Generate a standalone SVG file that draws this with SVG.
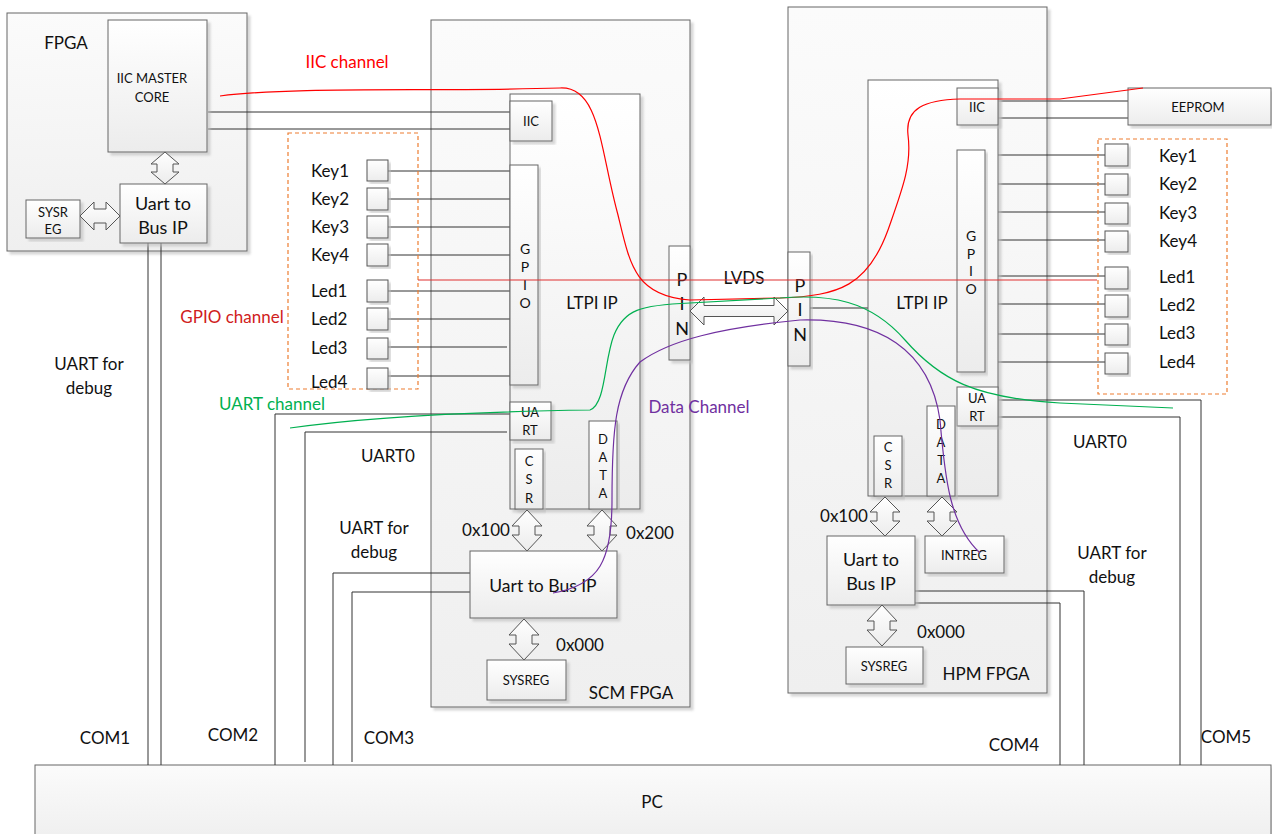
<svg xmlns="http://www.w3.org/2000/svg" width="1272" height="834" viewBox="0 0 1272 834">
<defs>
<linearGradient id="g" x1="0" y1="0" x2="0" y2="1"><stop offset="0" stop-color="#ffffff"/><stop offset="1" stop-color="#ececec"/></linearGradient>
<linearGradient id="gb" x1="0" y1="0" x2="0" y2="1"><stop offset="0" stop-color="#fbfbfb"/><stop offset="1" stop-color="#efefef"/></linearGradient>
<filter id="sh" x="-5%" y="-5%" width="115%" height="115%"><feDropShadow dx="3" dy="3" stdDeviation="1" flood-color="#bbb" flood-opacity="0.6"/></filter>
<style>
.box{fill:url(#g);stroke:#666;stroke-width:1;filter:url(#sh)}
.big{fill:url(#gb);stroke:#666;stroke-width:1;filter:url(#sh)}
.sq{fill:url(#g);stroke:#555;stroke-width:1;filter:url(#sh)}
.ln{fill:none;stroke:#333;stroke-width:1}
.arr{fill:url(#g);stroke:#555;stroke-width:1}
.dash{fill:none;stroke:#ED7D31;stroke-width:1.2;stroke-dasharray:4 3}
.t{font-family:Lato,"Liberation Sans",sans-serif;fill:#111;dominant-baseline:central;text-anchor:middle}
.s12{font-size:13px}.s13{font-size:14px}.s16{font-size:17px}.s17{font-size:17.5px}.s18{font-size:18px}
.lft{text-anchor:start}
</style>
</defs>
<rect width="1272" height="834" fill="#ffffff"/>

<g id="pc"><rect class="big" x="35" y="765" width="1236" height="75"/><text class="t s16" x="652" y="801">PC</text></g>

<g id="fpga"><rect class="big" x="7" y="13" width="240" height="238"/><text class="t s16" x="66" y="42">FPGA</text></g>
<g id="scm"><rect class="big" x="431" y="20" width="259" height="687"/><text class="t s16" x="631" y="692">SCM FPGA</text></g>
<g id="hpm"><rect class="big" x="788" y="7" width="259" height="686"/><text class="t s16" x="986" y="673">HPM FPGA</text></g>

<g id="connectors">
<path class="ln" d="M148,243V765M161,243V765"/>
<path class="ln" d="M208,112H510M208,129H510"/>
<path class="ln" d="M998,101H1128M998,118H1128"/>
<path class="ln" d="M388,171H510M388,199H510M388,227H510M388,255H510M388,291H510M388,319H510M388,347H507M388,376H510"/>
<path class="ln" d="M985,155H1110M985,184H1110M985,212H1110M985,240H1110M985,276H1110M985,304H1110M985,334H1110M985,362H1110"/>
<path class="ln" d="M810,308H868"/>
<path class="ln" d="M510,414H275V765M507,432H305V762"/>
<path class="ln" d="M470,573H333V765M470,592H352V762"/>
<path class="ln" d="M915,591H1084V765M915,603H1060V765"/>
<path class="ln" d="M998,400H1201V765M998,417H1180V765"/>
</g>

<g id="iicmaster"><rect class="box" x="108" y="20" width="99" height="132"/><text class="t s12" x="152" y="78">IIC MASTER</text><text class="t s12" x="152" y="97">CORE</text></g>
<g id="fpga-u2b"><rect class="box" x="120" y="184" width="87" height="59"/><text class="t s18" x="163" y="203">Uart to</text><text class="t s18" x="163" y="227">Bus IP</text></g>
<g id="fpga-sysreg"><rect class="box" x="26" y="200" width="54" height="38"/><text class="t s12" x="53" y="212">SYSR</text><text class="t s12" x="53" y="229">EG</text></g>
<path class="arr" d="M165,152L179,164L173,164L173,172L179,172L165,184L151,172L157,172L157,164L151,164Z"/>
<path class="arr" d="M80,216L94,202L94,209L106,209L106,202L120,216L106,230L106,223L94,223L94,230Z"/>

<g id="scm-ltpi"><rect class="box" x="510" y="94" width="130" height="415"/><text class="t s16" x="592" y="302">LTPI IP</text></g>
<g id="scm-iic"><rect class="box" x="510" y="101" width="42" height="40"/><text class="t s12" x="531" y="121">IIC</text></g>
<g id="scm-gpio"><rect class="box" x="510" y="165" width="28" height="220"/><text class="t s13" x="525" y="248">G</text><text class="t s13" x="525" y="266">P</text><text class="t s13" x="525" y="284">I</text><text class="t s13" x="525" y="302">O</text></g>
<g id="scm-uart"><rect class="box" x="510" y="402" width="41" height="38"/><text class="t s12" x="530" y="412">UA</text><text class="t s12" x="530" y="430">RT</text></g>
<g id="scm-csr"><rect class="box" x="515" y="449" width="28" height="60"/><text class="t s12" x="529" y="461">C</text><text class="t s12" x="529" y="479">S</text><text class="t s12" x="529" y="498">R</text></g>
<g id="scm-data"><rect class="box" x="589" y="421" width="28" height="88"/><text class="t s12" x="603" y="439">D</text><text class="t s12" x="603" y="457">A</text><text class="t s12" x="603" y="475">T</text><text class="t s12" x="603" y="493">A</text></g>
<path class="arr" d="M527,510L542,526L535,526L535,535L542,535L527,551L512,535L519,535L519,526L512,526Z"/>
<path class="arr" d="M602,510L617,526L610,526L610,535L617,535L602,551L587,535L594,535L594,526L587,526Z"/>
<g id="scm-u2b"><rect class="box" x="470" y="551" width="147" height="67"/><text class="t s17" x="543" y="585">Uart to Bus IP</text></g>
<path class="arr" d="M524,619L539,635L532,635L532,644L539,644L524,660L509,644L516,644L516,635L509,635Z"/>
<g id="scm-sysreg"><rect class="box" x="487" y="660" width="79" height="40"/><text class="t s12" x="526" y="680">SYSREG</text></g>

<g id="pin-l"><rect class="box" x="669" y="246" width="21" height="114"/><text class="t s18" x="682" y="279">P</text><text class="t s18" x="682" y="303">I</text><text class="t s18" x="682" y="328">N</text></g>
<g id="pin-r"><rect class="box" x="788" y="252" width="22" height="114"/><text class="t s18" x="800" y="285">P</text><text class="t s18" x="800" y="309">I</text><text class="t s18" x="800" y="334">N</text></g>
<text class="t s16" x="744" y="277">LVDS</text>

<g id="hpm-ltpi"><rect class="box" x="868" y="80" width="130" height="416"/><text class="t s16" x="922" y="302">LTPI IP</text></g>
<g id="hpm-iic"><rect class="box" x="957" y="88" width="41" height="37"/><text class="t s12" x="977" y="107">IIC</text></g>
<g id="hpm-gpio"><rect class="box" x="957" y="150" width="28" height="222"/><text class="t s13" x="971" y="235">G</text><text class="t s13" x="971" y="253">P</text><text class="t s13" x="971" y="270">I</text><text class="t s13" x="971" y="288">O</text></g>
<g id="hpm-uart"><rect class="box" x="957" y="387" width="41" height="39"/><text class="t s12" x="977" y="398">UA</text><text class="t s12" x="977" y="416">RT</text></g>
<g id="hpm-csr"><rect class="box" x="874" y="436" width="28" height="60"/><text class="t s12" x="888" y="447">C</text><text class="t s12" x="888" y="465">S</text><text class="t s12" x="888" y="483">R</text></g>
<g id="hpm-data"><rect class="box" x="927" y="406" width="28" height="90"/><text class="t s12" x="941" y="424">D</text><text class="t s12" x="941" y="442">A</text><text class="t s12" x="941" y="460">T</text><text class="t s12" x="941" y="478">A</text></g>
<path class="arr" d="M885,497L900,512L893,512L893,521L900,521L885,536L870,521L877,521L877,512L870,512Z"/>
<path class="arr" d="M942,497L957,512L950,512L950,521L957,521L942,536L927,521L934,521L934,512L927,512Z"/>
<g id="hpm-u2b"><rect class="box" x="827" y="536" width="88" height="69"/><text class="t s18" x="871" y="559">Uart to</text><text class="t s18" x="871" y="583">Bus IP</text></g>
<g id="hpm-intreg"><rect class="box" x="925" y="536" width="79" height="37"/><text class="t s12" x="964" y="555">INTREG</text></g>
<path class="arr" d="M882,605L897,621L890,621L890,630L897,630L882,646L867,630L874,630L874,621L867,621Z"/>
<g id="hpm-sysreg"><rect class="box" x="846" y="647" width="77" height="37"/><text class="t s12" x="884" y="666">SYSREG</text></g>

<g id="eeprom"><rect class="box" x="1128" y="88" width="143" height="37"/><text class="t s12" x="1198" y="107">EEPROM</text></g>

<g id="scm-io">
<rect class="dash" x="288" y="133" width="130" height="256"/>
<rect class="sq" x="367" y="160" width="21" height="21"/><rect class="sq" x="367" y="188" width="21" height="22"/><rect class="sq" x="367" y="216" width="21" height="22"/><rect class="sq" x="367" y="244" width="21" height="22"/>
<rect class="sq" x="367" y="280" width="21" height="22"/><rect class="sq" x="367" y="308" width="21" height="22"/><rect class="sq" x="367" y="338" width="21" height="21"/><rect class="sq" x="367" y="368" width="21" height="21"/>
<text class="t s16 lft" x="311" y="170">Key1</text><text class="t s16 lft" x="311" y="198">Key2</text><text class="t s16 lft" x="311" y="226">Key3</text><text class="t s16 lft" x="311" y="254">Key4</text>
<text class="t s16 lft" x="311" y="290">Led1</text><text class="t s16 lft" x="311" y="318">Led2</text><text class="t s16 lft" x="311" y="347">Led3</text><text class="t s16 lft" x="311" y="381">Led4</text>
</g>
<g id="hpm-io">
<rect class="dash" x="1098" y="139" width="129" height="255"/>
<rect class="sq" x="1105" y="144" width="23" height="22"/><rect class="sq" x="1105" y="174" width="23" height="21"/><rect class="sq" x="1105" y="203" width="23" height="21"/><rect class="sq" x="1105" y="231" width="23" height="21"/>
<rect class="sq" x="1105" y="267" width="23" height="22"/><rect class="sq" x="1105" y="295" width="23" height="22"/><rect class="sq" x="1105" y="324" width="23" height="21"/><rect class="sq" x="1105" y="353" width="23" height="21"/>
<text class="t s16 lft" x="1159" y="155">Key1</text><text class="t s16 lft" x="1159" y="183">Key2</text><text class="t s16 lft" x="1159" y="212">Key3</text><text class="t s16 lft" x="1159" y="240">Key4</text>
<text class="t s16 lft" x="1159" y="276">Led1</text><text class="t s16 lft" x="1159" y="304">Led2</text><text class="t s16 lft" x="1159" y="332">Led3</text><text class="t s16 lft" x="1159" y="361">Led4</text>
</g>

<path class="arr" d="M690,311L704,297L704,305.5L774,305.5L774,297L788,311L774,325L774,316.5L704,316.5L704,325Z"/>

<g id="channels" fill="none" stroke-width="1.2">
<path stroke="#E03030" d="M418,280H1097"/>
<path stroke="#FF0000" d="M220,96C300,86 430,92 560,88C600,86 600,150 618,215C630,265 635,296 690,300L780,298C840,296 868,285 888,230C902,190 912,165 908,135C905,108 925,100 960,99L1060,99L1143,88"/>
<path stroke="#00B050" d="M290,428C360,418 450,412 590,410C606,404 604,360 614,335C624,310 640,305 690,303L780,298C830,294 870,300 905,340C940,380 975,398 1060,403L1173,408"/>
<path stroke="#7030A0" d="M553,593C600,585 612,560 612,500C612,430 615,390 640,362C670,340 720,328 800,320C880,318 930,350 940,420C945,480 950,525 980,553"/>
</g>

<g id="labels">
<text class="t s16" x="347" y="61" style="fill:#FF0000">IIC channel</text>
<text class="t s16" x="232" y="316" style="fill:#D02020">GPIO channel</text>
<text class="t s16" x="272" y="403" style="fill:#00B050">UART channel</text>
<text class="t s16" x="699" y="406" style="fill:#7030A0">Data Channel</text>
<text class="t s16" x="89" y="363">UART for</text><text class="t s16" x="89" y="387">debug</text>
<text class="t s16" x="388" y="455">UART0</text>
<text class="t s16" x="374" y="527">UART for</text><text class="t s16" x="374" y="551">debug</text>
<text class="t s16" x="1100" y="441">UART0</text>
<text class="t s16" x="1112" y="552">UART for</text><text class="t s16" x="1112" y="576">debug</text>
<text class="t s16" x="486" y="529">0x100</text>
<text class="t s16" x="650" y="532">0x200</text>
<text class="t s16" x="580" y="644">0x000</text>
<text class="t s16" x="844" y="515">0x100</text>
<text class="t s16" x="941" y="631">0x000</text>
<text class="t s16" x="105" y="737">COM1</text>
<text class="t s16" x="233" y="734">COM2</text>
<text class="t s16" x="389" y="737">COM3</text>
<text class="t s16" x="1014" y="744">COM4</text>
<text class="t s16" x="1226" y="736">COM5</text>
</g>
</svg>
